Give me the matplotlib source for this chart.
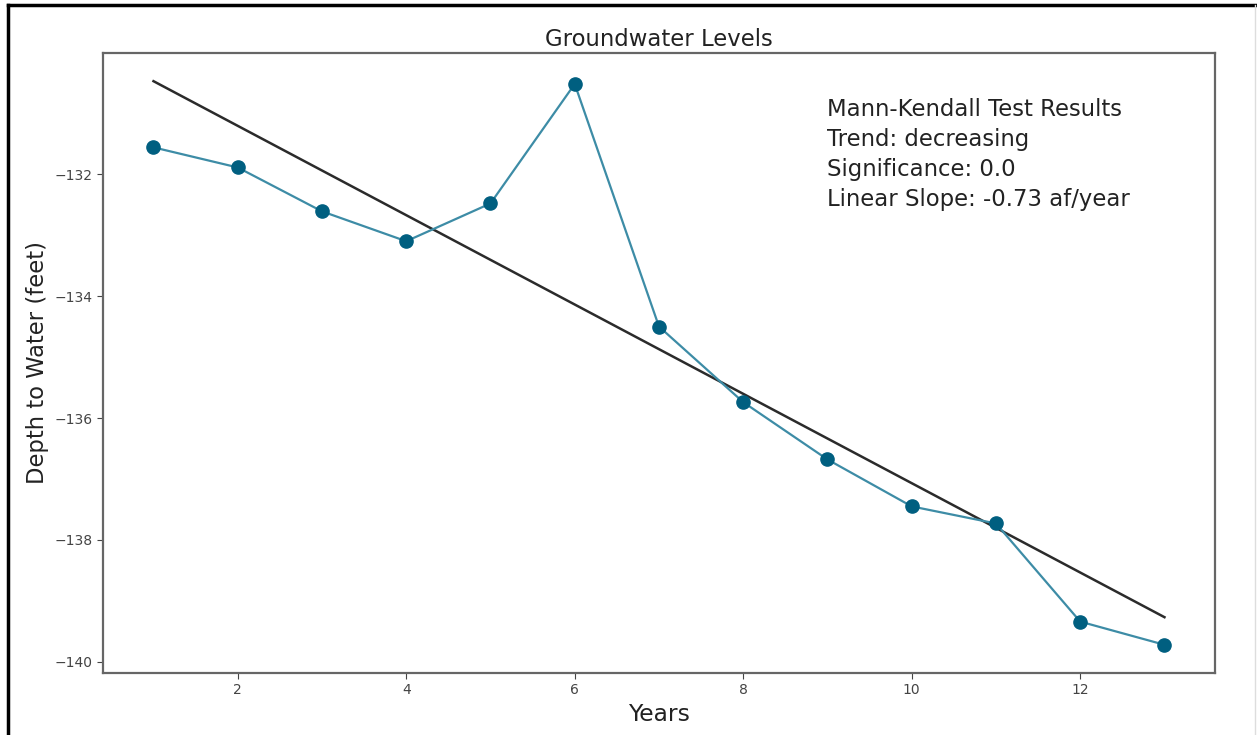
import numpy as np
import matplotlib
matplotlib.use("Agg")
import matplotlib.pyplot as plt
from matplotlib.lines import Line2D

# groundwater depth readings, one per year
years = [1, 2, 3, 4, 5, 6, 7, 8, 9, 10, 11, 12, 13]
depth = [-131.56, -131.89, -132.61, -133.10, -132.48, -130.52, -134.50,
         -135.74, -136.68, -137.45, -137.73, -139.34, -139.72]

mk_lines = ["Mann-Kendall Test Results",
            "Trend: decreasing",
            "Significance: 0.0",
            "Linear Slope: -0.73 af/year"]

fig = plt.figure(figsize=(12.57, 7.35), dpi=100)
ax = fig.add_axes([0.0819, 0.0844, 0.8847, 0.8435])

# linear trend fitted on the readings
slope, intercept = np.polyfit(years, depth, 1)
x = np.array(years)
ax.plot(x, slope * x + intercept, color="#2b2b2b", lw=1.8)

ax.plot(years, depth, color="#3d8ca6", lw=1.6, zorder=3)
ax.plot(years, depth, "o", color="#005f80", ms=9.5, zorder=4)

ax.set_title("Groundwater Levels", fontsize=16.4, color="#222222", pad=5)
ax.set_xlabel("Years", fontsize=16.8, color="#222222")
ax.set_ylabel("Depth to Water (feet)", fontsize=16.3, color="#222222")
ax.text(0.651, 0.928, "\n".join(mk_lines), transform=ax.transAxes,
        fontsize=16.4, color="#222222", va="top", linespacing=1.4)

for s in ax.spines.values():
    s.set_color("#666666")
    s.set_linewidth(1.6)
ax.tick_params(labelsize=10, colors="#444444", length=4)

# screenshot frame
fig.add_artist(Line2D([8 / 1257, 8 / 1257], [0, 1 - 5 / 735],
                      transform=fig.transFigure, color="black", lw=2.5))
fig.add_artist(Line2D([8 / 1257, 1], [1 - 5 / 735, 1 - 5 / 735],
                      transform=fig.transFigure, color="black", lw=2.5))
fig.add_artist(Line2D([1255 / 1257, 1255 / 1257], [0, 1 - 5 / 735],
                      transform=fig.transFigure, color="#dddddd", lw=1))

fig.savefig("out.png", dpi=100)
